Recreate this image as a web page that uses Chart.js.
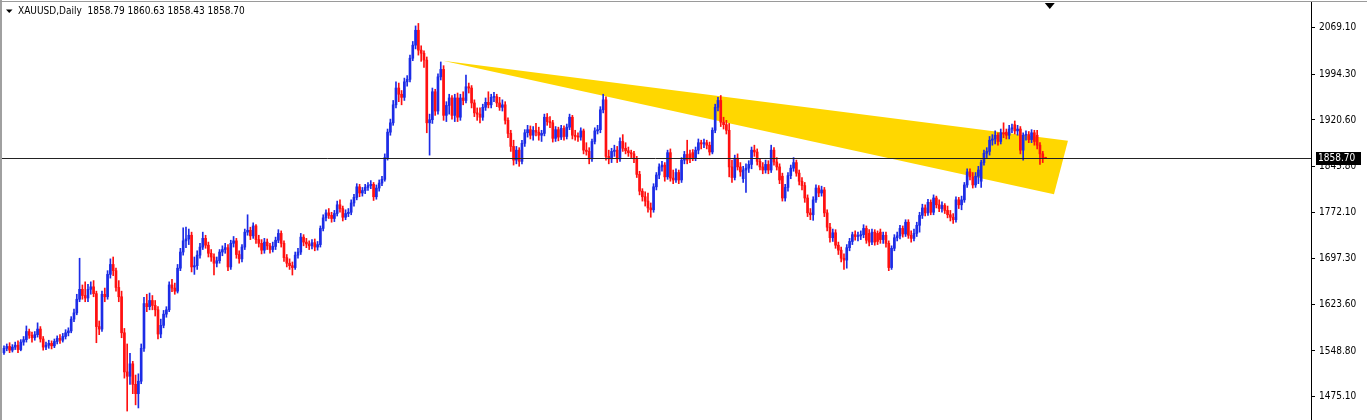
<!DOCTYPE html>
<html>
<head>
<meta charset="utf-8">
<script src="https://cdn.jsdelivr.net/npm/chart.js@4.4.1/dist/chart.umd.min.js"></script>
<style>
html, body { margin: 0; padding: 0; background: #fff; overflow: hidden; }
#wrap { position: relative; width: 1367px; height: 420px; }
</style>
</head>
<body>
<div id="wrap"><canvas id="grafica" width="1367" height="420"></canvas></div>
<script>
// Chart values (one entry per candle)
const symbol = "XAUUSD,Daily"

const opens = [
    1546,1553,1556,1550,1555,1558,1551,1563,1567,1580,
    1574,1570,1575,1584,1568,1555,1558,1561,1557,1564,
    1569,1566,1572,1578,1581,1600,1610,1632,1648,1638,
    1634,1648,1652,1641,1588,1584,1640,1636,1672,1688,
    1678,1651,1636,1578,1515,1508,1528,1495,1480,1500,
    1553,1625,1620,1630,1622,1615,1576,1590,1608,1615,
    1655,1650,1645,1682,1708,1726,1729,1735,1684,1686,
    1703,1716,1730,1719,1706,1700,1690,1694,1708,1712,
    1715,1684,1722,1726,1704,1697,1716,1740,1743,1734,
    1750,1728,1722,1711,1724,1718,1712,1717,1727,1738,
    1722,1699,1690,1686,1683,1703,1708,1732,1724,1721,
    1718,1723,1716,1720,1746,1763,1771,1767,1762,1770,
    1784,1778,1764,1770,1772,1787,1796,1813,1803,1807,
    1812,1815,1817,1797,1811,1819,1825,1860,1901,1916,
    1945,1972,1962,1957,1982,1986,2020,2041,2065,2033,
    2028,2017,1916,1921,1966,1935,1990,2002,1928,1944,
    1956,1928,1956,1925,1956,1952,1974,1972,1948,1932,
    1930,1925,1941,1949,1945,1957,1958,1948,1941,1945,
    1920,1899,1878,1856,1872,1854,1883,1900,1905,1896,
    1904,1901,1896,1899,1925,1918,1916,1891,1905,1893,
    1907,1894,1909,1925,1896,1894,1893,1903,1872,1870,
    1858,1886,1903,1905,1937,1953,1862,1858,1870,1872,
    1858,1886,1875,1871,1868,1866,1858,1833,1806,1797,
    1790,1779,1776,1813,1832,1845,1848,1829,1868,1827,
    1824,1836,1824,1856,1865,1866,1868,1860,1872,1884,
    1882,1884,1880,1869,1904,1941,1952,1917,1913,1904,
    1845,1828,1859,1845,1826,1840,1843,1849,1872,1869,
    1854,1845,1840,1849,1840,1872,1853,1845,1830,1795,
    1812,1831,1843,1852,1835,1822,1815,1795,1771,1768,
    1792,1811,1803,1808,1771,1748,1731,1739,1719,1711,
    1698,1695,1715,1725,1736,1733,1734,1736,1746,1738,
    1724,1740,1738,1740,1728,1735,1722,1683,1714,1731,
    1734,1746,1737,1756,1735,1730,1738,1751,1767,1779,
    1771,1788,1772,1795,1784,1778,1783,1775,1768,1764,
    1760,1792,1784,1792,1816,1837,1829,1816,1830,1822,
    1852,1867,1870,1888,1890,1896,1886,1900,1901,1896,
    1906,1913,1903,1906,1872,1896,1897,1889,1900,1896,
    1880,1866,1858.79
]

const highs = [
    1557,1560,1562,1559,1563,1565,1567,1572,1589,1584,
    1579,1580,1594,1588,1572,1563,1566,1565,1568,1573,
    1575,1577,1583,1586,1604,1616,1640,1698,1655,1660,
    1656,1660,1662,1645,1597,1645,1650,1678,1697,1700,
    1682,1662,1645,1585,1560,1545,1532,1510,1512,1560,
    1635,1640,1642,1638,1630,1620,1600,1614,1620,1660,
    1664,1658,1688,1714,1747,1748,1745,1740,1700,1710,
    1722,1740,1735,1724,1712,1705,1700,1712,1718,1722,
    1720,1727,1733,1730,1710,1720,1745,1768,1748,1755,
    1752,1735,1728,1730,1729,1722,1724,1732,1744,1742,
    1726,1704,1697,1692,1708,1714,1738,1736,1730,1726,
    1728,1729,1725,1750,1768,1776,1778,1772,1775,1790,
    1792,1782,1776,1778,1792,1801,1818,1817,1812,1817,
    1820,1823,1820,1816,1824,1830,1866,1906,1922,1952,
    1982,1980,1968,1988,1992,2025,2047,2072,2076,2040,
    2032,2022,1930,1972,1970,1995,2014,2008,1950,1962,
    1960,1962,1964,1962,1966,1993,1980,1976,1953,1940,
    1940,1946,1956,1966,1962,1965,1962,1957,1953,1950,
    1924,1904,1888,1878,1876,1888,1905,1912,1911,1910,
    1915,1909,1904,1930,1931,1926,1920,1910,1909,1912,
    1911,1914,1930,1928,1904,1900,1908,1906,1884,1876,
    1890,1908,1912,1942,1962,1958,1872,1875,1880,1878,
    1892,1897,1884,1877,1872,1870,1862,1838,1810,1805,
    1803,1787,1818,1836,1850,1854,1852,1872,1874,1840,
    1842,1840,1860,1870,1888,1872,1873,1877,1890,1888,
    1890,1888,1885,1908,1946,1957,1960,1925,1920,1915,
    1856,1864,1866,1852,1846,1850,1855,1877,1880,1874,
    1858,1852,1856,1855,1880,1876,1860,1850,1835,1817,
    1836,1848,1860,1856,1840,1828,1820,1800,1778,1797,
    1816,1815,1814,1812,1776,1754,1745,1744,1724,1716,
    1705,1720,1730,1740,1742,1740,1742,1752,1750,1744,
    1745,1744,1742,1745,1740,1740,1726,1718,1736,1740,
    1751,1750,1760,1760,1742,1745,1756,1772,1785,1784,
    1793,1792,1800,1798,1792,1789,1786,1782,1775,1770,
    1797,1796,1798,1820,1842,1842,1836,1836,1846,1856,
    1872,1876,1894,1897,1903,1900,1906,1916,1906,1912,
    1914,1919,1912,1910,1900,1903,1902,1905,1904,1904,
    1884,1870,1860.63
]

const lows = [
    1543,1549,1546,1547,1551,1546,1549,1558,1563,1569,
    1563,1566,1571,1563,1550,1551,1553,1552,1554,1560,
    1561,1563,1568,1573,1578,1596,1607,1628,1632,1628,
    1628,1640,1636,1562,1575,1580,1628,1632,1666,1670,
    1645,1628,1570,1505,1452,1495,1480,1462,1457,1496,
    1548,1612,1615,1615,1605,1568,1570,1586,1603,1612,
    1644,1640,1642,1678,1703,1715,1720,1676,1672,1680,
    1698,1712,1714,1700,1693,1671,1684,1690,1702,1706,
    1678,1680,1716,1698,1690,1692,1712,1735,1728,1730,
    1722,1716,1705,1706,1712,1706,1708,1712,1723,1716,
    1693,1684,1680,1671,1680,1698,1704,1718,1715,1712,
    1713,1710,1711,1716,1742,1758,1762,1756,1757,1766,
    1772,1758,1760,1765,1768,1782,1792,1797,1798,1802,
    1807,1810,1791,1793,1806,1815,1822,1856,1896,1912,
    1940,1950,1945,1952,1975,1982,2016,2035,2025,2015,
    2005,1900,1864,1915,1928,1930,1985,1920,1918,1930,
    1922,1918,1918,1920,1945,1948,1964,1940,1926,1920,
    1916,1920,1936,1940,1940,1950,1942,1936,1935,1914,
    1892,1870,1848,1850,1846,1850,1878,1893,1890,1888,
    1895,1888,1886,1895,1912,1908,1885,1886,1887,1889,
    1888,1890,1905,1890,1888,1886,1888,1866,1864,1850,
    1854,1882,1898,1900,1932,1856,1850,1852,1862,1852,
    1854,1870,1866,1862,1860,1852,1828,1800,1790,1782,
    1772,1764,1772,1808,1826,1838,1822,1825,1822,1818,
    1820,1818,1820,1850,1850,1852,1855,1855,1866,1874,
    1876,1874,1864,1866,1900,1935,1910,1906,1898,1829,
    1820,1824,1840,1830,1820,1804,1836,1842,1862,1848,
    1840,1834,1835,1834,1836,1848,1840,1818,1790,1790,
    1806,1826,1838,1830,1816,1808,1788,1765,1760,1759,
    1788,1797,1798,1765,1742,1724,1725,1714,1704,1692,
    1680,1682,1710,1720,1727,1726,1728,1731,1722,1718,
    1720,1719,1720,1722,1722,1716,1678,1680,1710,1726,
    1729,1732,1733,1730,1724,1726,1733,1740,1762,1766,
    1767,1768,1768,1779,1773,1772,1770,1763,1758,1754,
    1756,1778,1776,1788,1812,1824,1811,1812,1818,1812,
    1848,1860,1864,1880,1882,1880,1882,1892,1890,1890,
    1900,1898,1896,1866,1856,1888,1884,1884,1880,1874,
    1849,1852,1858.43
]

const closes = [
    1553,1556,1550,1555,1558,1551,1563,1567,1580,1574,
    1570,1575,1584,1568,1555,1558,1561,1557,1564,1569,
    1566,1572,1578,1581,1600,1610,1632,1648,1638,1634,
    1648,1652,1641,1588,1584,1640,1636,1672,1688,1678,
    1651,1636,1578,1515,1508,1528,1495,1480,1500,1553,
    1625,1620,1630,1622,1615,1576,1590,1608,1615,1655,
    1650,1645,1682,1708,1726,1729,1735,1684,1686,1703,
    1716,1730,1719,1706,1700,1690,1694,1708,1712,1715,
    1684,1722,1726,1704,1697,1716,1740,1743,1734,1750,
    1728,1722,1711,1724,1718,1712,1717,1727,1738,1722,
    1699,1690,1686,1683,1703,1708,1732,1724,1721,1718,
    1723,1716,1720,1746,1763,1771,1767,1762,1770,1784,
    1778,1764,1770,1772,1787,1796,1813,1803,1807,1812,
    1815,1817,1797,1811,1819,1825,1860,1901,1916,1945,
    1972,1962,1957,1982,1986,2020,2041,2065,2033,2028,
    2017,1916,1921,1966,1935,1990,2002,1928,1944,1956,
    1928,1956,1925,1956,1952,1974,1972,1948,1932,1930,
    1925,1941,1949,1945,1957,1958,1948,1941,1945,1920,
    1899,1878,1856,1872,1854,1883,1900,1905,1896,1904,
    1901,1896,1899,1925,1918,1916,1891,1905,1893,1907,
    1894,1909,1925,1896,1894,1893,1903,1872,1870,1858,
    1886,1903,1905,1937,1953,1862,1858,1870,1872,1858,
    1886,1875,1871,1868,1866,1858,1833,1806,1797,1790,
    1779,1776,1813,1832,1845,1848,1829,1868,1827,1824,
    1836,1824,1856,1865,1856,1858,1860,1872,1884,1882,
    1884,1880,1869,1904,1941,1952,1917,1913,1904,1845,
    1828,1859,1845,1837,1840,1843,1849,1872,1869,1854,
    1845,1840,1849,1840,1872,1853,1845,1824,1795,1812,
    1831,1843,1852,1835,1822,1815,1795,1771,1768,1792,
    1811,1803,1808,1771,1748,1731,1739,1719,1711,1698,
    1695,1715,1725,1736,1733,1734,1736,1746,1727,1724,
    1740,1724,1725,1728,1735,1722,1683,1714,1731,1734,
    1746,1737,1756,1735,1730,1738,1751,1767,1779,1771,
    1788,1772,1795,1784,1778,1783,1775,1768,1764,1760,
    1792,1784,1792,1816,1837,1829,1816,1830,1840,1852,
    1867,1870,1888,1890,1896,1886,1900,1898,1896,1906,
    1908,1903,1906,1872,1896,1897,1889,1900,1886,1880,
    1866,1858.79,1858.70
]

// price axis labels and the bid line
const yTicks = [2069.10, 1994.30, 1920.60, 1845.80, 1772.10, 1697.30, 1623.60, 1548.80, 1475.10]
const bidPrice = 1858.70

// yellow triangle object (candle index, price)
const triangleX = [156.8, 380, 375]
const triangleY = [2016, 1887, 1801]

const bullColor = "#1c2ce6"
const bearColor = "#ff1010"
const labelFont = '"DejaVu Sans Condensed", "DejaVu Sans", sans-serif'

const candleColors = closes.map((c, i) => c >= opens[i] ? bullColor : bearColor)
const wickData = closes.map((c, i) => ({ x: i, y: [lows[i], highs[i]] }))
const bodyData = closes.map((c, i) => ({ x: i, y: [opens[i], c] }))

const last = closes.length - 1
const headerText = symbol + "  " + [opens[last], highs[last], lows[last], closes[last]].map(v => v.toFixed(2)).join(" ")

// extra drawing: triangle behind the candles, bid line, label box, frame and header
const overlay = {
    id: "overlay",
    beforeDatasetsDraw(chart) {
        const { ctx, scales: { x, y } } = chart
        ctx.save()
        ctx.fillStyle = "#ffd700"
        ctx.beginPath()
        triangleX.forEach((v, i) => {
            const px = x.getPixelForValue(v)
            const py = y.getPixelForValue(triangleY[i])
            if (i == 0) ctx.moveTo(px, py)
            else ctx.lineTo(px, py)
        })
        ctx.closePath()
        ctx.fill()
        ctx.restore()
    },
    afterDatasetsDraw(chart) {
        const { ctx, chartArea, scales: { y } } = chart
        const py = Math.round(y.getPixelForValue(bidPrice)) + 0.5
        ctx.save()
        ctx.strokeStyle = "#222"
        ctx.lineWidth = 1
        ctx.beginPath()
        ctx.moveTo(chartArea.left - 2, py)
        ctx.lineTo(chartArea.right, py)
        ctx.stroke()
        ctx.restore()
    },
    afterDraw(chart) {
        const { ctx, chartArea, scales: { x, y } } = chart
        ctx.save()

        // bid price box on the axis
        const py = Math.round(y.getPixelForValue(bidPrice))
        ctx.fillStyle = "#000"
        ctx.fillRect(chartArea.right + 5, py - 6, 45, 13)
        ctx.fillStyle = "#fff"
        ctx.font = "10px " + labelFont
        ctx.textBaseline = "middle"
        ctx.textAlign = "left"
        ctx.fillText(bidPrice.toFixed(2), chartArea.right + 7, py + 0.5)

        // window frame
        ctx.fillStyle = "#a0a0a0"
        ctx.fillRect(0, 0, 2, 420)
        ctx.fillStyle = "#9a9a9a"
        ctx.fillRect(0, 1, 1367, 1)

        // header
        ctx.fillStyle = "#000"
        ctx.beginPath()
        ctx.moveTo(6, 9.5)
        ctx.lineTo(12.5, 9.5)
        ctx.lineTo(9.25, 13)
        ctx.closePath()
        ctx.fill()
        ctx.font = "10px " + labelFont
        ctx.textBaseline = "middle"
        ctx.fillText(headerText, 18, 11.5)

        // chart shift marker
        const mx = x.getPixelForValue(last + 1.5)
        ctx.beginPath()
        ctx.moveTo(mx - 5, 3)
        ctx.lineTo(mx + 5, 3)
        ctx.lineTo(mx, 9)
        ctx.closePath()
        ctx.fill()
        ctx.restore()
    }
}

const grafica = document.getElementById("grafica")
const myChart = new Chart(grafica, {
    type: "bar",
    data: {
        datasets: [
            {
                label: "wicks",
                data: wickData,
                backgroundColor: candleColors,
                barThickness: 1,
                grouped: false,
                borderWidth: 0,
                order: 2
            },
            {
                label: "bodies",
                data: bodyData,
                backgroundColor: candleColors,
                barThickness: 2,
                minBarLength: 1,
                grouped: false,
                borderWidth: 0,
                order: 1
            }
        ]
    },
    options: {
        responsive: false,
        animation: false,
        devicePixelRatio: 1,
        layout: { padding: { left: 2, top: 2, right: 0, bottom: 0 } },
        plugins: {
            legend: { display: false },
            tooltip: { enabled: false }
        },
        scales: {
            x: {
                type: "linear",
                offset: false,
                bounds: "ticks",
                min: -0.71,
                max: 466.8,
                display: false
            },
            y: {
                position: "right",
                min: 1437.6,
                max: 2110.5,
                afterBuildTicks: (axis) => {
                    axis.ticks = yTicks.map(v => ({ value: v }))
                },
                afterFit: (axis) => {
                    axis.width = 56
                    axis.paddingTop = 0
                    axis.paddingBottom = 0
                },
                ticks: {
                    autoSkip: false,
                    padding: 4,
                    color: "#000",
                    font: { family: labelFont, size: 10 },
                    callback: (v) => Number(v).toFixed(2)
                },
                grid: {
                    drawOnChartArea: false,
                    drawTicks: true,
                    tickLength: 4,
                    color: "#000"
                },
                border: { display: true, color: "#000" }
            }
        }
    },
    plugins: [overlay]
})
</script>
</body>
</html>
